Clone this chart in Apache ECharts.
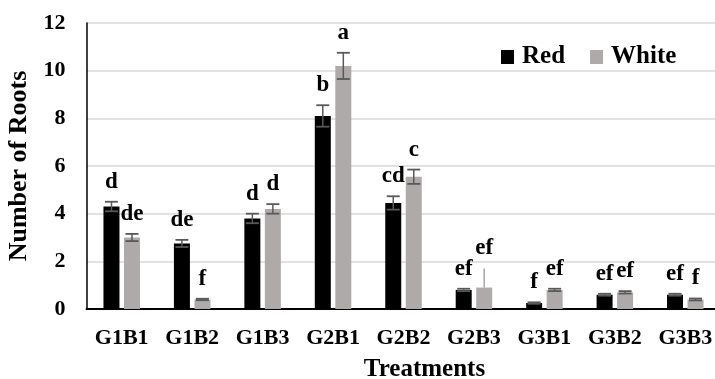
<!DOCTYPE html>
<html>
<head>
<meta charset="utf-8">
<script src="https://cdn.jsdelivr.net/npm/echarts@6/dist/echarts.min.js"></script>
<style>
html,body{margin:0;padding:0;background:#fff;}
#chart{width:715px;height:379px;}
</style>
</head>
<body>
<div id="chart"></div>
<script>
const categories = ['G1B1','G1B2','G1B3','G2B1','G2B2','G2B3','G3B1','G3B2','G3B3'];
const redValues   = [4.3, 2.75, 3.8, 8.1, 4.45, 0.8, 0.25, 0.6, 0.6];
const whiteValues = [3.0, 0.4, 4.2, 10.2, 5.55, 0.9, 0.8, 0.7, 0.4];
const redErrors   = [0.2, 0.15, 0.2, 0.45, 0.28, 0.05, 0.03, 0.04, 0.04];
const whiteErrors = [0.15, 0.03, 0.2, 0.55, 0.3, 0.8, 0.05, 0.05, 0.04];
const whiteUpperOnly = [false,false,false,false,false,true,false,false,false];
const redLetters   = ['d','de','d','b','cd','ef','f','ef','ef'];
const whiteLetters = ['de','f','d','a','c','ef','ef','ef','f'];
const yTicks = [0,2,4,6,8,10,12];

const FONT = "'Liberation Serif','Times New Roman',serif";
const BAR_W = 16, BAR_GAP = 4.5;
const OFF = (BAR_W + BAR_GAP) / 2;
const ERR_COLOR = '#595959';
const RED_COLOR = '#000000';
const WHITE_COLOR = '#AEAAAA';

function errRenderer(values, errors, letters, sign, upperOnly) {
  return function (params, api) {
    const i = params.dataIndex;
    const m = values[i], e = errors[i];
    const c = api.coord([i, m]);
    const x = c[0] + sign * OFF;
    const top = api.coord([i, m + e])[1];
    const bot = api.coord([i, m - e])[1];
    const children = [];
    const cw = 6.5;
    if (upperOnly && upperOnly[i]) {
      children.push({type:'line', shape:{x1:x,y1:c[1],x2:x,y2:top}, style:{stroke:'#A6A6A6', lineWidth:1.5}});
    } else {
      children.push({type:'line', shape:{x1:x,y1:top,x2:x,y2:bot}, style:{stroke:ERR_COLOR, lineWidth:1.5}});
      children.push({type:'line', shape:{x1:x-cw,y1:top,x2:x+cw,y2:top}, style:{stroke:ERR_COLOR, lineWidth:1.8}});
      children.push({type:'line', shape:{x1:x-cw,y1:bot,x2:x+cw,y2:bot}, style:{stroke:ERR_COLOR, lineWidth:1.8}});
    }
    children.push({type:'text', style:{text:letters[i], x:x, y:top - 20, align:'center', verticalAlign:'middle',
      font:'bold 23px ' + FONT, fill:'#000'}});
    return {type:'group', children};
  };
}

const chart = echarts.init(document.getElementById('chart'), null, {renderer:'canvas'});
chart.setOption({
  animation:false,
  backgroundColor:'#fff',
  grid:{left:86.5, top:23, width:634, height:286, containLabel:false, outerBoundsMode:'none'},
  legend:{
    data:['Red','White'], left:496, top:39, icon:'rect', itemWidth:13, itemHeight:14, itemGap:25,
    textStyle:{fontFamily:FONT, fontWeight:'bold', fontSize:25, color:'#000', lineHeight:26, padding:[0,0,0,3]}
  },
  xAxis:{
    type:'category', data:categories,
    axisLine:{lineStyle:{color:'#000', width:2}},
    axisTick:{show:false},
    axisLabel:{fontFamily:FONT, fontWeight:'bold', fontSize:22, color:'#000', margin:18, lineHeight:22, interval:0},
    name:'Treatments', nameLocation:'middle', nameGap:48,
    nameTextStyle:{fontFamily:FONT, fontWeight:'bold', fontSize:25, color:'#000', lineHeight:25, padding:[0,0,0,42]}
  },
  yAxis:{
    type:'value', min:yTicks[0], max:yTicks[yTicks.length-1], interval:yTicks[1]-yTicks[0],
    axisLine:{show:true, lineStyle:{color:'#000', width:1.5}},
    axisTick:{show:false},
    splitLine:{lineStyle:{color:'#D9D9D9', width:1.5}},
    axisLabel:{fontFamily:FONT, fontWeight:'bold', fontSize:22, color:'#000', margin:21},
    name:'Number of Roots', nameLocation:'middle', nameRotate:90, nameGap:54,
    nameTextStyle:{fontFamily:FONT, fontWeight:'bold', fontSize:26, color:'#000'}
  },
  series:[
    {name:'Red', type:'bar', data:redValues, barWidth:BAR_W, barGap:(BAR_GAP/BAR_W*100)+'%', itemStyle:{color:RED_COLOR}},
    {name:'White', type:'bar', data:whiteValues, barWidth:BAR_W, itemStyle:{color:WHITE_COLOR}},
    {type:'custom', data:redValues.map((v,i)=>[i,v]), renderItem:errRenderer(redValues, redErrors, redLetters, -1), z:10, silent:true},
    {type:'custom', data:whiteValues.map((v,i)=>[i,v]), renderItem:errRenderer(whiteValues, whiteErrors, whiteLetters, 1, whiteUpperOnly), z:10, silent:true}
  ]
});
</script>
</body>
</html>
